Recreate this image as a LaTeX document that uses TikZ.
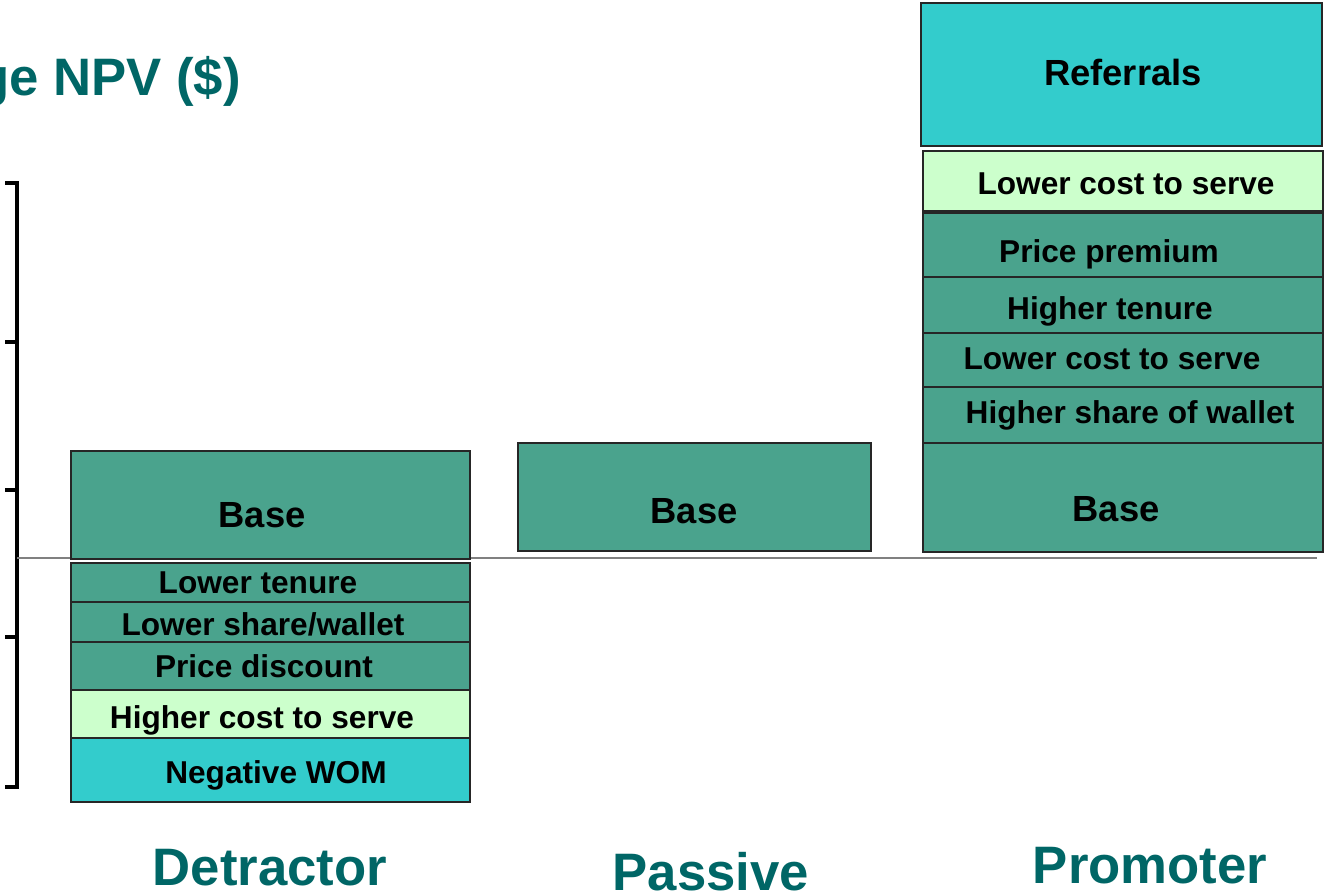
\documentclass[tikz,border=0pt]{standalone}
\usepackage{fontspec}
\setmainfont{Liberation Sans}
\usepackage{tikz}

\definecolor{npvteal}{HTML}{006666}
\definecolor{barteal}{HTML}{4AA38D}
\definecolor{barmint}{HTML}{CCFFCC}
\definecolor{barcyan}{HTML}{33CCCC}

\tikzset{
  seg/.style={draw=black!85, line width=0.6pt},
  lbl/.style={font=\bfseries\fontsize{18}{20}\selectfont, inner sep=0pt, anchor=base},
  biglbl/.style={font=\bfseries\fontsize{20.7}{22}\selectfont, inner sep=0pt, anchor=base},
  grouplbl/.style={font=\bfseries\fontsize{30}{32}\selectfont, text=npvteal, inner sep=0pt, anchor=base},
}

\begin{document}
\begin{tikzpicture}[x=0.02cm, y=-0.02cm]
\useasboundingbox (0,0) rectangle (1324,893);
% title and axis
\node[grouplbl, anchor=base east] (title) at (241,95) {ge NPV (\$)};
\draw[line width=2pt] (5,183) -- (17,183) -- (17,787) -- (5,787);
\foreach \y in {342,490,637} \draw[line width=2pt] (5,\y) -- (17,\y);
\draw[gray, line width=0.85pt] (17,558) -- (1317,558);
% detractor
\draw[seg, fill=barteal] (71,451) rectangle (470,559);
\draw[seg, fill=barteal] (71,563) rectangle (470,602);
\draw[seg, fill=barteal] (71,602) rectangle (470,642);
\draw[seg, fill=barteal] (71,642) rectangle (470,690);
\draw[seg, fill=barmint] (71,690) rectangle (470,738);
\draw[seg, fill=barcyan] (71,738) rectangle (470,802);
\node[biglbl] (dbase) at (262,527) {Base};
\node[lbl] (dtenure) at (258,593) {Lower tenure};
\node[lbl] (dwallet) at (263,635) {Lower share/wallet};
\node[lbl] (dprice) at (264,677) {Price discount};
\node[lbl] (dcost) at (262,728) {Higher cost to serve};
\node[lbl] (dwom) at (276,783) {Negative WOM};
% passive
\draw[seg, fill=barteal] (518,443) rectangle (871,551);
\node[biglbl] (pbase) at (694,523) {Base};
% promoter
\draw[seg, fill=barcyan] (921,3) rectangle (1322,146);
\draw[seg, fill=barmint] (923,151) rectangle (1323,211);
\draw[seg, fill=barteal] (923,213) rectangle (1323,277);
\draw[seg, fill=barteal] (923,277) rectangle (1323,333);
\draw[seg, fill=barteal] (923,333) rectangle (1323,387);
\draw[seg, fill=barteal] (923,387) rectangle (1323,443);
\draw[seg, fill=barteal] (923,443) rectangle (1323,552);
\node[biglbl] (referrals) at (1123,85) {Referrals};
\node[lbl] (mcost) at (1126,194) {Lower cost to serve};
\node[lbl] (premium) at (1109,262) {Price premium};
\node[lbl] (mtenure) at (1110,319) {Higher tenure};
\node[lbl] (lcost) at (1112,369) {Lower cost to serve};
\node[lbl] (mwallet) at (1130,423) {Higher share of wallet};
\node[biglbl] (mbase) at (1116,521) {Base};
% group labels
\node[grouplbl] (detractor) at (270,885) {Detractor};
\node[grouplbl] (passive) at (711,890) {Passive};
\node[grouplbl] (promoter) at (1150,883) {Promoter};
\end{tikzpicture}
\end{document}
